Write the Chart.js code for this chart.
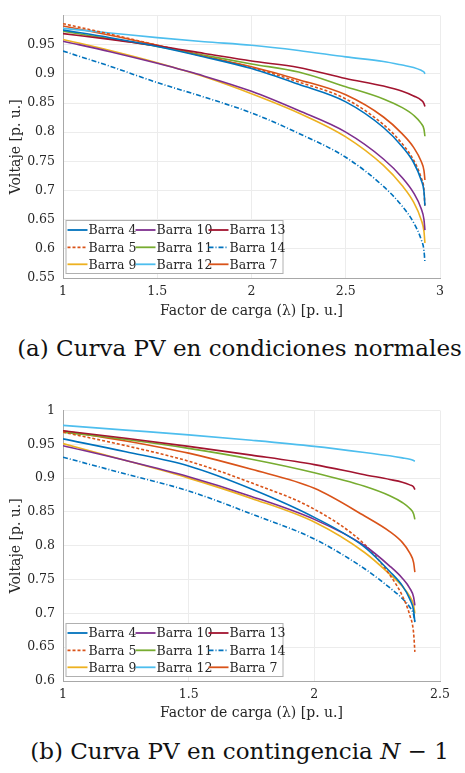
<!DOCTYPE html>
<html>
<head>
<meta charset="utf-8">
<script src="https://cdn.jsdelivr.net/npm/chart.js@4"></script>
<style>
  body { margin: 0; background: #fff; width: 465px; height: 773px; position: relative; overflow: hidden; }
  .box { position: absolute; left: 0; width: 465px; }
  .cap { position: absolute; left: 0; width: 465px; text-align: center; font-family: "DejaVu Serif", serif; font-size: 23px; color: #111; white-space: nowrap; }
</style>
</head>
<body>
<div class="box" style="top:0;height:320px"><canvas id="chartA" width="465" height="320"></canvas></div>
<div class="cap" id="capA" style="top:335px;left:7px">(a) Curva PV en condiciones normales</div>
<div class="box" style="top:395px;height:327px"><canvas id="chartB" width="465" height="327"></canvas></div>
<div class="cap" id="capB" style="top:738px;left:7px">(b) Curva PV en contingencia <i>N</i> − 1</div>
<script>
// (a) condiciones normales
const lamA = [1.0, 1.25, 1.5, 1.75, 2.0, 2.25, 2.5, 2.7, 2.8, 2.86, 2.9, 2.915, 2.92];
const a4  = [0.975, 0.962, 0.947, 0.929, 0.909, 0.882, 0.852, 0.808, 0.775, 0.748, 0.718, 0.698, 0.674];
const a5  = [0.986, 0.968, 0.949, 0.930, 0.911, 0.886, 0.857, 0.813, 0.780, 0.752, 0.722, 0.701, 0.672];
const a7  = [0.982, 0.966, 0.949, 0.930, 0.912, 0.890, 0.864, 0.826, 0.797, 0.774, 0.750, 0.734, 0.718];
const a9  = [0.959, 0.940, 0.919, 0.895, 0.866, 0.833, 0.792, 0.743, 0.708, 0.680, 0.650, 0.630, 0.610];
const a10 = [0.956, 0.938, 0.918, 0.896, 0.870, 0.837, 0.800, 0.754, 0.722, 0.696, 0.669, 0.650, 0.632];
const a11 = [0.973, 0.960, 0.947, 0.932, 0.917, 0.903, 0.878, 0.857, 0.842, 0.829, 0.815, 0.805, 0.793];
const a12 = [0.978, 0.970, 0.962, 0.955, 0.949, 0.940, 0.929, 0.921, 0.915, 0.911, 0.906, 0.903, 0.900];
const a13 = [0.969, 0.959, 0.948, 0.935, 0.922, 0.911, 0.892, 0.879, 0.870, 0.862, 0.855, 0.849, 0.844];
const a14 = [0.939, 0.913, 0.885, 0.860, 0.833, 0.798, 0.757, 0.707, 0.673, 0.645, 0.616, 0.597, 0.577];

// (b) contingencia N-1
const lamB = [1.0, 1.25, 1.5, 1.75, 2.0, 2.2, 2.3, 2.35, 2.38, 2.395, 2.40];
const b4  = [0.958, 0.939, 0.918, 0.884, 0.842, 0.798, 0.762, 0.741, 0.721, 0.704, 0.687];
const b5  = [0.968, 0.948, 0.925, 0.893, 0.854, 0.802, 0.757, 0.726, 0.697, 0.671, 0.643];
const b7  = [0.970, 0.955, 0.937, 0.913, 0.885, 0.844, 0.821, 0.805, 0.789, 0.775, 0.761];
const b9  = [0.951, 0.926, 0.900, 0.870, 0.835, 0.790, 0.758, 0.740, 0.725, 0.712, 0.700];
const b10 = [0.948, 0.926, 0.902, 0.873, 0.839, 0.800, 0.770, 0.752, 0.737, 0.724, 0.712];
const b11 = [0.968, 0.957, 0.944, 0.928, 0.908, 0.888, 0.874, 0.864, 0.855, 0.847, 0.839];
const b12 = [0.978, 0.971, 0.964, 0.956, 0.947, 0.938, 0.933, 0.930, 0.928, 0.926, 0.925];
const b13 = [0.970, 0.959, 0.947, 0.934, 0.920, 0.905, 0.898, 0.894, 0.890, 0.887, 0.883];
const b14 = [0.931, 0.906, 0.881, 0.847, 0.810, 0.766, 0.738, 0.722, 0.709, 0.698, 0.687];

// legend order (row by row, 3 columns)
const names = ['Barra 4', 'Barra 10', 'Barra 13', 'Barra 5', 'Barra 11', 'Barra 14', 'Barra 9', 'Barra 12', 'Barra 7'];

const xTicksA = [1, 1.5, 2, 2.5, 3];
const yTicksA = [0.55, 0.6, 0.65, 0.7, 0.75, 0.8, 0.85, 0.9, 0.95, 1.0];
const yLabelsA = ['0.55', '0.6', '0.65', '0.7', '0.75', '0.8', '0.85', '0.9', '0.95', ''];
const xTicksB = [1, 1.5, 2, 2.5];
const yTicksB = [0.6, 0.65, 0.7, 0.75, 0.8, 0.85, 0.9, 0.95, 1.0];
const yLabelsB = ['0.6', '0.65', '0.7', '0.75', '0.8', '0.85', '0.9', '0.95', '1'];

const styles = {
  'Barra 4':  { color: '#0072BD', dash: [] },
  'Barra 10': { color: '#7E2F8E', dash: [] },
  'Barra 13': { color: '#A2142F', dash: [] },
  'Barra 5':  { color: '#D95319', dash: [3, 2] },
  'Barra 11': { color: '#77AC30', dash: [] },
  'Barra 14': { color: '#0072BD', dash: [5, 2, 1, 2] },
  'Barra 9':  { color: '#EDB120', dash: [] },
  'Barra 12': { color: '#4DBEEE', dash: [] },
  'Barra 7':  { color: '#D95319', dash: [] },
};

const textColor = '#262626';
const serif = "'DejaVu Serif', serif";

function pts(xs, ys) {
  return xs.map((x, i) => ({ x: x, y: ys[i] }));
}

function makeSets(xs, series) {
  return names.map(n => ({
    label: n,
    data: pts(xs, series[n]),
    borderColor: styles[n].color,
    borderDash: styles[n].dash,
    borderWidth: 1.6,
    pointRadius: 0,
    fill: false,
    cubicInterpolationMode: 'monotone',
  }));
}

// legend drawn inside the plot, lower left, 3 columns like the original
const boxLegend = {
  id: 'boxLegend',
  afterDatasetsDraw(chart) {
    const ctx = chart.ctx;
    const area = chart.chartArea;
    const bx = area.left + 2.5, by = area.bottom - 58, bw = 217, bh = 53;
    ctx.save();
    ctx.fillStyle = '#fff';
    ctx.fillRect(bx, by, bw, bh);
    ctx.strokeStyle = '#b0b0b0';
    ctx.lineWidth = 1;
    ctx.strokeRect(bx + 0.5, by + 0.5, bw, bh);
    const colX = [2, 70, 143];
    const rowY = [10, 27.3, 44.3];
    ctx.font = '12.5px ' + serif;
    ctx.textBaseline = 'middle';
    chart.data.datasets.forEach((ds, i) => {
      const x = bx + colX[i % 3];
      const y = by + rowY[Math.floor(i / 3)];
      ctx.strokeStyle = ds.borderColor;
      ctx.lineWidth = 1.8;
      ctx.setLineDash(ds.borderDash);
      ctx.beginPath();
      ctx.moveTo(x, y);
      ctx.lineTo(x + 20, y);
      ctx.stroke();
      ctx.setLineDash([]);
      ctx.fillStyle = textColor;
      ctx.fillText(ds.label, x + 21, y + 1);
    });
    ctx.restore();
  }
};

function makeChart(id, xs, series, xMax, yMin, xTicks, yTicks, yLabels, padTop, xAxisH) {
  return new Chart(document.getElementById(id).getContext('2d'), {
    type: 'line',
    data: { datasets: makeSets(xs, series) },
    options: {
      responsive: false,
      animation: false,
      layout: { padding: { top: padTop, right: 25, left: 0, bottom: 0 } },
      plugins: { legend: { display: false }, tooltip: { enabled: false } },
      scales: {
        x: {
          type: 'linear',
          min: 1,
          max: xMax,
          afterBuildTicks: s => { s.ticks = xTicks.map(v => ({ value: v })); },
          afterFit: s => { s.height = xAxisH; },
          grid: { color: '#ececec', drawTicks: false },
          border: { color: '#a8a8a8' },
          ticks: {
            padding: 6,
            maxRotation: 0,
            color: textColor,
            font: { family: serif, size: 12.5 },
            callback: v => String(v),
          },
          title: {
            display: true,
            text: 'Factor de carga (λ) [p. u.]',
            color: textColor,
            font: { family: serif, size: 14 },
            padding: { top: 0, bottom: 0 },
          },
        },
        y: {
          type: 'linear',
          min: yMin,
          max: 1.0,
          afterBuildTicks: s => { s.ticks = yTicks.map(v => ({ value: v })); },
          afterFit: s => { s.width = 63; },
          grid: { color: '#ececec', drawTicks: false },
          border: { color: '#a8a8a8' },
          ticks: {
            padding: 8,
            color: textColor,
            font: { family: serif, size: 12.5 },
            callback: (v, i) => yLabels[i],
          },
          title: {
            display: true,
            text: 'Voltaje [p. u.]',
            color: textColor,
            font: { family: serif, size: 14 },
            padding: { top: 8, bottom: 0 },
          },
        },
      },
    },
    plugins: [boxLegend],
  });
}

makeChart('chartA', lamA,
  { 'Barra 4': a4, 'Barra 10': a10, 'Barra 13': a13, 'Barra 5': a5, 'Barra 11': a11,
    'Barra 14': a14, 'Barra 9': a9, 'Barra 12': a12, 'Barra 7': a7 },
  3, 0.55, xTicksA, yTicksA, yLabelsA, 6, 42);

makeChart('chartB', lamB,
  { 'Barra 4': b4, 'Barra 10': b10, 'Barra 13': b13, 'Barra 5': b5, 'Barra 11': b11,
    'Barra 14': b14, 'Barra 9': b9, 'Barra 12': b12, 'Barra 7': b7 },
  2.5, 0.6, xTicksB, yTicksB, yLabelsB, 14, 41);
</script>
</body>
</html>
